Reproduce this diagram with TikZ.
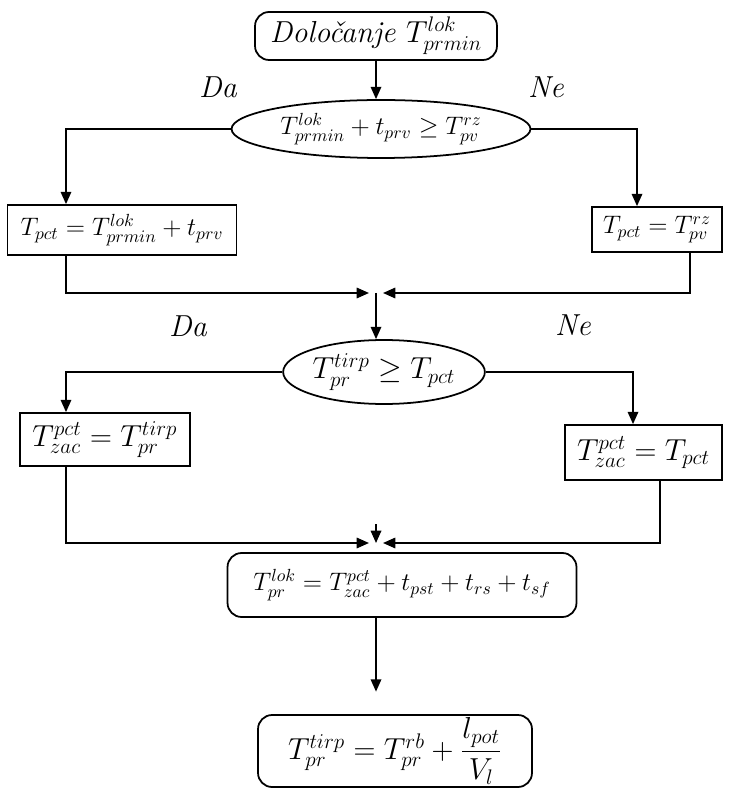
\documentclass[tikz,border=0pt]{standalone}
\usepackage{amsmath}
\usetikzlibrary{arrows.meta, positioning, shapes.geometric}

\begin{document}
\begin{tikzpicture}[
    x=0.02cm, y=-0.02cm,
    font=\Large,
    roundbox/.style={rectangle, rounded corners=8pt, draw=black, line width=1pt,
                     align=center, inner sep=0pt},
    calcbox/.style={rectangle, draw=black, line width=1pt, align=center, inner sep=0pt},
    testnode/.style={ellipse, draw=black, line width=1pt, inner sep=0pt},
    arrow/.style={-{Triangle[length=7pt, width=6pt]}, line width=0.9pt, draw=black},
    branchtag/.style={font=\LARGE\itshape}
  ]
    % Page frame — fixes the margins of the scan
    \useasboundingbox (0,0) rectangle (739,803);

    % Column positions for the side branches
    \coordinate (lcol)  at (66,0);
    \coordinate (rcol)  at (637,0);
    \coordinate (rcolb) at (690,0);
    \coordinate (rcolc) at (633,0);
    \coordinate (rcold) at (660,0);

    % Start block and first test
    \node[roundbox, minimum width=4.84cm, minimum height=0.96cm, font=\LARGE] (start) at (376,36)
      {\itshape Določanje $T^{lok}_{prmin}$};
    \node[testnode, minimum width=5.98cm, minimum height=1.16cm] (test1) at (381,129)
      {$T^{lok}_{prmin} + t_{prv} \geq T^{rz}_{pv}$};
    \node[branchtag] (da1) at (218,87) {Da};
    \node[branchtag] (ne1) at (546,87) {Ne};

    % First pair of assignments
    \node[calcbox, minimum width=4.58cm, minimum height=1.0cm] (pctda) at (122,230)
      {$T_{pct} = T^{lok}_{prmin} + t_{prv}$};
    \node[calcbox, minimum width=2.6cm, minimum height=0.9cm] (pctne) at (657,229.5)
      {$T_{pct} = T^{rz}_{pv}$};
    \coordinate (join1) at (376,293);

    % Second test
    \node[testnode, minimum width=3.92cm, minimum height=1.28cm, font=\LARGE] (test2) at (384,372)
      {$T^{tirp}_{pr} \geq T_{pct}$};
    \node[branchtag] (da2) at (188,326) {Da};
    \node[branchtag] (ne2) at (573,325) {Ne};

    % Second pair of assignments
    \node[calcbox, minimum width=3.4cm, minimum height=1.06cm, font=\LARGE] (zacda) at (105,439.5)
      {$T^{pct}_{zac} = T^{tirp}_{pr}$};
    \node[calcbox, minimum width=3.14cm, minimum height=1.1cm, font=\LARGE] (zacne) at (643.5,452.5)
      {$T^{pct}_{zac} = T_{pct}$};
    \coordinate (join2)   at (376,543);
    \coordinate (join2up) at (376,524);

    % Closing blocks
    \node[roundbox, minimum width=6.98cm, minimum height=1.28cm] (lok) at (402,585)
      {$T^{lok}_{pr} = T^{pct}_{zac} + t_{pst} + t_{rs} + t_{sf}$};
    \node[roundbox, minimum width=5.48cm, minimum height=1.44cm, font=\LARGE] (tir) at (395,751)
      {$T^{tirp}_{pr} = T^{rb}_{pr} + \dfrac{l_{pot}}{V_l}$};

    % Connectors
    \draw[arrow] (start.south -| join1) -- (test1.north -| join1);
    \draw[arrow] (test1.west) -| (pctda.north -| lcol);
    \draw[arrow] (test1.east) -| (pctne.north -| rcol);
    \draw[arrow] (pctda.south -| lcol) |- ([xshift=-4pt]join1);
    \draw[arrow] (pctne.south -| rcolb) |- ([xshift=4pt]join1);
    \draw[arrow] (join1) -- (test2.north -| join1);
    \draw[arrow] (test2.west) -| (zacda.north -| lcol);
    \draw[arrow] (test2.east) -| (zacne.north -| rcolc);
    \draw[arrow] (zacda.south -| lcol) |- ([xshift=-4pt]join2);
    \draw[arrow] (zacne.south -| rcold) |- ([xshift=4pt]join2);
    \draw[arrow] (join2up) -- (join2);
    \draw[arrow, shorten >=0.45cm] (lok.south -| join2) -- (tir.north -| join2);
  \end{tikzpicture}
\end{document}
